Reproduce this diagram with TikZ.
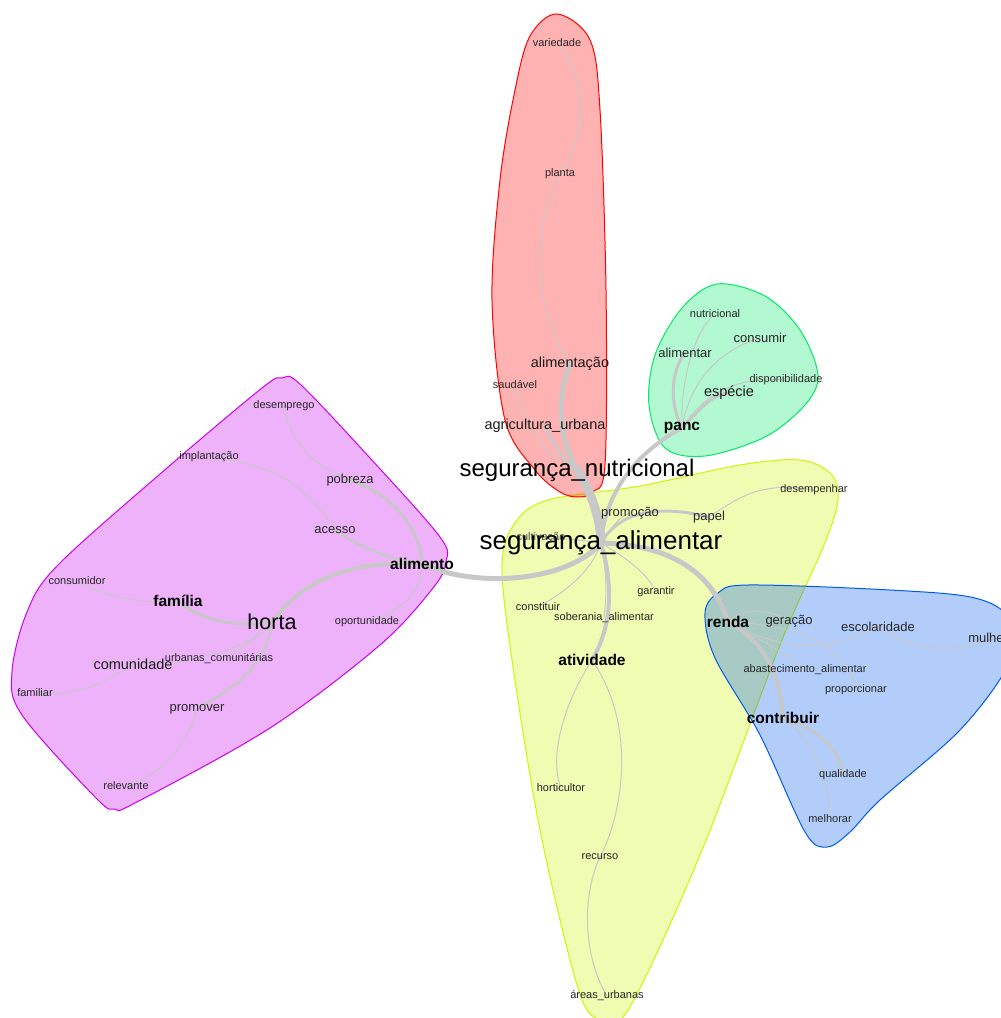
\documentclass[tikz,border=0pt]{standalone}
\usepackage{fontspec}
\setmainfont{Liberation Sans}
\usepackage{xcolor}
\usepackage{tikz}
\usetikzlibrary{positioning}

\definecolor{hullred}{RGB}{255,0,0}
\definecolor{hullgreen}{RGB}{0,232,100}
\definecolor{hullyellow}{RGB}{205,245,0}
\definecolor{hullblue}{RGB}{0,90,240}
\definecolor{hullpink}{RGB}{200,0,240}
\definecolor{linkgray}{RGB}{200,200,200}

\pgfdeclarelayer{hulls}
\pgfdeclarelayer{links}
\pgfsetlayers{hulls,links,main}

\begin{document}
\begin{tikzpicture}[
    x=1pt, y=-1pt,
    hull/.style={draw=#1, fill=#1, fill opacity=0.3, line width=1pt},
    link/.style={draw=linkgray, line width=#1, line cap=round},
    link/.default=1pt,
    smallword/.style={inner sep=0pt, text=black!85, font=\fontsize{11}{13}\selectfont},
    word/.style={inner sep=0pt, text=black!85, font=\fontsize{13}{15}\selectfont},
    bigword/.style={inner sep=0pt, text=black!90, font=\fontsize{14.5}{16}\selectfont},
    boldword/.style={inner sep=0pt, text=black, font=\fontsize{15.5}{17}\selectfont\bfseries},
    topword/.style={inner sep=0pt, text=black, font=\fontsize{#1}{#1}\selectfont},
  ]

    \clip (0,0) rectangle (1001,1018);

    % --- clusters ---
    \begin{pgfonlayer}{hulls}
    \draw[hull=hullyellow] plot[smooth cycle, tension=0.55] coordinates {(598,1019) (577,985) (540,830) (512,660) (502,565) (515,523) (548,500) (640,486) (740,465) (800,460) (831,474) (838,500) (824,545) (780,645) (700,855) (628,1010)};
    \draw[hull=hullred] plot[smooth cycle, tension=0.55] coordinates {(557,14) (590,40) (600,110) (606,290) (605,465) (592,492) (578,497) (560,492) (535,470) (505,420) (492,300) (500,180) (515,90) (530,36)};
    \draw[hull=hullgreen] plot[smooth cycle, tension=0.55] coordinates {(717,284) (765,296) (800,330) (818,375) (805,405) (765,437) (705,456) (665,448) (649,405) (655,355) (682,308)};
    \draw[hull=hullblue] plot[smooth cycle, tension=0.55] coordinates {(705,613) (718,593) (748,585) (890,590) (975,598) (1010,620) (1008,665) (960,730) (880,800) (850,832) (827,847) (805,832) (760,735) (715,658)};
    \draw[hull=hullpink] plot[smooth cycle, tension=0.55] coordinates {(282,378) (300,384) (370,458) (440,537) (446,562) (433,588) (380,645) (270,728) (135,803) (115,809) (97,799) (22,715) (12,672) (27,612) (57,566) (160,474) (262,388)};
    \end{pgfonlayer}

    % --- red ---
    \node[smallword] (variedade) at (557,43) {variedade};
    \node[smallword] (planta) at (560,174) {planta};
    \node[bigword] (alimentacao) at (570,364) {alimentação};
    \node[smallword] (saudavel) at (515,384) {saudável};
    \node[bigword] (agricultura) at (545,426) {agricultura\_urbana};

    % --- green ---
    \node[smallword] (nutricional) at (715,314) {nutricional};
    \node[word] (consumir) at (760,338) {consumir};
    \node[word] (alimentar) at (685,353) {alimentar};
    \node[smallword] (disponib) at (786,380) {disponibilidade};
    \node[bigword] (especie) at (729,393) {espécie};
    \node[boldword] (panc) at (682,428) {panc};

    % --- yellow ---
    \node[smallword, text=black!70] (cultivacao) at (541,538) {cultivação};
    \node[topword=26] (segalim) at (601,543) {segurança\_alimentar};
    \node[topword=24] (segnutri) at (577,470) {segurança\_nutricional};
    \node[word] (promocao) at (630,513) {promoção};
    \node[word] (papel) at (709,517) {papel};
    \node[smallword] (desempenhar) at (814,490) {desempenhar};
    \node[smallword] (garantir) at (656,592) {garantir};
    \node[smallword] (constituir) at (538,607) {constituir};
    \node[smallword] (soberania) at (604,618) {soberania\_alimentar};
    \node[boldword] (atividade) at (592,660) {atividade};
    \node[smallword] (horticultor) at (561,788) {horticultor};
    \node[smallword] (recurso) at (600,857) {recurso};
    \node[smallword] (areas) at (607,996) {áreas\_urbanas};

    % --- blue ---
    \node[boldword] (renda) at (728,622) {renda};
    \node[word] (geracao) at (789,621) {geração};
    \node[word] (escolaridade) at (878,627) {escolaridade};
    \node[word] (mulheres) at (995,638) {mulheres};
    \node[smallword] (abastecimento) at (805,670) {abastecimento\_alimentar};
    \node[smallword] (proporcionar) at (856,690) {proporcionar};
    \node[boldword] (contribuir) at (783,718) {contribuir};
    \node[smallword] (qualidade) at (843,775) {qualidade};
    \node[smallword] (melhorar) at (830,819) {melhorar};

    % --- pink ---
    \node[smallword] (desemprego) at (284,406) {desemprego};
    \node[smallword] (implantacao) at (209,457) {implantação};
    \node[word] (pobreza) at (350,480) {pobreza};
    \node[word] (acesso) at (335,530) {acesso};
    \node[boldword] (alimento) at (422,564) {alimento};
    \node[smallword] (consumidor) at (77,581) {consumidor};
    \node[boldword] (familia) at (178,601) {família};
    \node[topword=21.5] (horta) at (272,622) {horta};
    \node[smallword] (oportunidade) at (367,622) {oportunidade};
    \node[bigword] (comunidade) at (133,664) {comunidade};
    \node[smallword] (urbanas) at (219,659) {urbanas\_comunitárias};
    \node[smallword] (familiar) at (35,693) {familiar};
    \node[word] (promover) at (197,709) {promover};
    \node[smallword] (relevante) at (126,786) {relevante};

    % --- links ---
    \begin{pgfonlayer}{links}
    \draw[link=9] (segalim.center) .. controls (600,515) and (590,490) .. (segnutri.center);
    \draw[link=5] (segnutri.center) .. controls (560,440) and (555,400) .. (alimentacao.center);
    \draw[link] (alimentacao.center) .. controls (540,320) and (525,240) .. (planta.center);
    \draw[link] (planta.center) .. controls (585,140) and (590,80) .. (variedade.center);
    \draw[link=3] (segnutri.center) .. controls (570,465) and (555,450) .. (agricultura.center);
    \draw[link] (segnutri.center) .. controls (540,455) and (522,420) .. (saudavel.center);

    \draw[link=4] (segalim.center) .. controls (605,490) and (640,450) .. (panc.center);
    \draw[link=3] (panc.center) .. controls (700,410) and (710,395) .. (especie.center);
    \draw[link=3] (panc.center) .. controls (668,400) and (672,370) .. (alimentar.center);
    \draw[link] (panc.center) .. controls (680,380) and (695,330) .. (nutricional.center);
    \draw[link] (panc.center) .. controls (690,380) and (720,350) .. (consumir.center);
    \draw[link] (panc.center) .. controls (700,400) and (730,375) .. (disponib.center);

    \draw[link] (segalim.center) .. controls (610,530) and (620,515) .. (promocao.center);
    \draw[link=3] (segalim.center) .. controls (620,510) and (660,505) .. (papel.center);
    \draw[link] (papel.center) .. controls (735,500) and (760,480) .. (desempenhar.center);
    \draw[link] (segalim.center) .. controls (580,540) and (560,538) .. (cultivacao.center);
    \draw[link=5] (segalim.center) .. controls (570,580) and (480,590) .. (alimento.center);
    \draw[link=5] (segalim.center) .. controls (680,545) and (715,580) .. (renda.center);
    \draw[link=4] (segalim.center) .. controls (615,590) and (610,630) .. (atividade.center);
    \draw[link] (segalim.center) .. controls (630,560) and (648,575) .. (garantir.center);
    \draw[link] (segalim.center) .. controls (590,575) and (560,595) .. (constituir.center);
    \draw[link] (segalim.center) .. controls (608,580) and (606,600) .. (soberania.center);
    \draw[link] (atividade.center) .. controls (560,710) and (550,760) .. (horticultor.center);
    \draw[link] (atividade.center) .. controls (640,730) and (620,820) .. (recurso.center);
    \draw[link] (recurso.center) .. controls (580,900) and (585,960) .. (areas.center);

    \draw[link=4] (renda.center) .. controls (770,645) and (780,680) .. (contribuir.center);
    \draw[link=3] (contribuir.center) .. controls (820,730) and (840,750) .. (qualidade.center);
    \draw[link] (contribuir.center) .. controls (820,745) and (830,790) .. (melhorar.center);
    \draw[link] (renda.center) .. controls (745,605) and (770,610) .. (geracao.center);
    \draw[link] (renda.center) .. controls (790,655) and (830,650) .. (escolaridade.center);
    \draw[link] (escolaridade.center) .. controls (910,650) and (950,655) .. (mulheres.center);
    \draw[link] (renda.center) .. controls (820,625) and (850,660) .. (proporcionar.center);
    \draw[link] (renda.center) .. controls (760,640) and (790,655) .. (abastecimento.center);

    \draw[link=4] (alimento.center) .. controls (340,560) and (300,585) .. (horta.center);
    \draw[link=2.5] (alimento.center) .. controls (390,560) and (355,545) .. (acesso.center);
    \draw[link] (acesso.center) .. controls (310,490) and (280,465) .. (implantacao.center);
    \draw[link=3] (alimento.center) .. controls (420,530) and (395,495) .. (pobreza.center);
    \draw[link] (pobreza.center) .. controls (310,465) and (290,440) .. (desemprego.center);
    \draw[link] (alimento.center) .. controls (422,590) and (405,610) .. (oportunidade.center);
    \draw[link=3] (horta.center) .. controls (235,628) and (200,620) .. (familia.center);
    \draw[link] (familia.center) .. controls (140,605) and (100,595) .. (consumidor.center);
    \draw[link] (horta.center) .. controls (255,640) and (235,655) .. (urbanas.center);
    \draw[link] (horta.center) .. controls (250,650) and (190,665) .. (comunidade.center);
    \draw[link] (comunidade.center) .. controls (110,680) and (80,697) .. (familiar.center);
    \draw[link=2.5] (horta.center) .. controls (265,670) and (230,690) .. (promover.center);
    \draw[link] (promover.center) .. controls (185,750) and (160,775) .. (relevante.center);
    \end{pgfonlayer}

  \end{tikzpicture}
\end{document}
